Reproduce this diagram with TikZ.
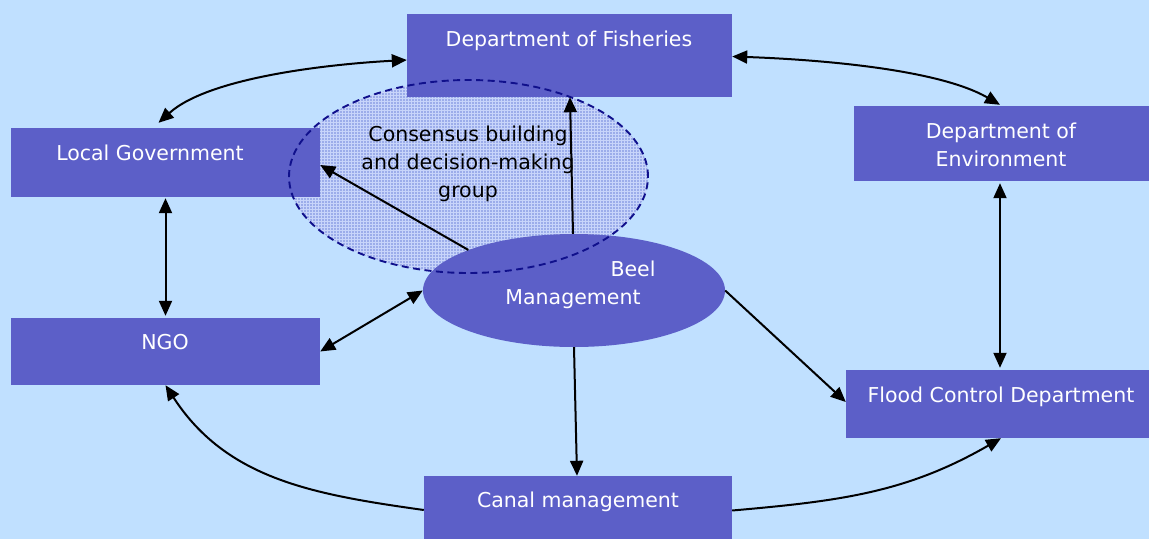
\documentclass[tikz,border=0pt]{standalone}
\usepackage{fontspec}
\setmainfont{DejaVu Sans}
\usetikzlibrary{arrows.meta,shapes.geometric,patterns}
\definecolor{bg}{HTML}{C0E0FF}
\definecolor{boxc}{HTML}{5C5FC8}
\definecolor{consf}{HTML}{9CADEA}
\definecolor{consg}{HTML}{C8D5FA}
\definecolor{navyc}{HTML}{10108C}
\begin{document}
\begin{tikzpicture}[x=1pt,y=1pt,
  box/.style={draw=none, fill=boxc, rectangle, inner sep=0pt},
  lbl/.style={text=white, font=\fontsize{20.5pt}{28pt}\selectfont, inner sep=0pt, align=center},
  dlbl/.style={lbl, text=black},
  arr/.style={line width=2pt, -{Triangle[length=15pt,width=13pt]}},
  darr/.style={line width=2pt, {Triangle[length=15pt,width=13pt]}-{Triangle[length=15pt,width=13pt]}},
  consborder/.style={draw=navyc, line width=1.9pt, dash pattern=on 7pt off 4.5pt}]
\fill[bg] (0,0) rectangle (1149,-539);
\useasboundingbox (0,0) rectangle (1149,-539);

% consensus group (fill)
\node[ellipse, minimum width=359pt, minimum height=193pt, inner sep=0pt, fill=consf,
      postaction={pattern=grid, pattern color=consg}] (cons) at (468.5,-176.5) {};

% boxes
\node[box, minimum width=325pt, minimum height=83pt] (fish) at (569.5,-55.5) {};
\node[box, minimum width=309pt, minimum height=69pt] (loc) at (165.5,-162.5) {};
\node[box, minimum width=295pt, minimum height=75pt] (env) at (1001.5,-143.5) {};
\node[box, minimum width=309pt, minimum height=67pt] (ngo) at (165.5,-351.5) {};
\node[box, minimum width=303pt, minimum height=68pt] (flood) at (997.5,-404) {};
\node[box, minimum width=308pt, minimum height=63pt] (canal) at (578,-507.5) {};
\node[ellipse, fill=boxc, minimum width=302pt, minimum height=113pt, inner sep=0pt] (beel) at (574,-290.5) {};

% texts
\node[lbl, anchor=base] (tfish) at (569,-46) {Department of Fisheries};
\node[lbl, anchor=base] (tloc) at (150,-160) {Local Government};
\node[lbl, anchor=base] (tenv) at (1001,-166) {Department of\\Environment};
\node[lbl, anchor=base] (tngo) at (165,-349) {NGO};
\node[lbl, anchor=base] (tflood) at (1001,-402) {Flood Control Department};
\node[lbl, anchor=base] (tcanal) at (578,-507) {Canal management};
\node[dlbl, anchor=base] (tcons) at (468,-197) {Consensus building\\and decision-making\\group};
\node[lbl, anchor=base] (tbeel) at (633,-276) {Beel};
\node[lbl, anchor=base] (tman) at (573,-304) {Management};

% consensus border
\draw[consborder] (cons.center) ellipse [x radius=179.5pt, y radius=96.5pt];

% connectors
\draw[darr] ([yshift=-4.5pt]fish.west) to[out=183,in=42,looseness=0.7] ([xshift=-7pt,yshift=5pt]loc.north);
\draw[darr] ([yshift=-1pt]fish.east) to[out=-2,in=150,looseness=0.7] ([xshift=-1.5pt,yshift=1pt]env.north);
\draw[darr] ([yshift=-1pt]loc.south) -- ([yshift=2pt]ngo.north);
\draw[darr] ([xshift=-1.5pt,yshift=-2pt]env.south) -- ([xshift=2.5pt,yshift=2pt]flood.north);
\draw[arr] (beel.159) -- ([yshift=-2.5pt]loc.east);
\draw[arr] ([xshift=-1pt]beel.north) -- ([xshift=0.5pt]fish.south);
\draw[darr] (ngo.east) -- (beel.west);
\draw[arr] (beel.east) -- ([yshift=2pt]flood.west);
\draw[arr] (beel.south) -- ([xshift=-1pt]canal.north);
\draw[arr] ([yshift=-2.5pt]canal.west) to[out=172,in=-57] (ngo.south);
\draw[arr] ([yshift=-3pt]canal.east) to[out=5,in=-150] ([xshift=3.5pt]flood.south);
\end{tikzpicture}
\end{document}
